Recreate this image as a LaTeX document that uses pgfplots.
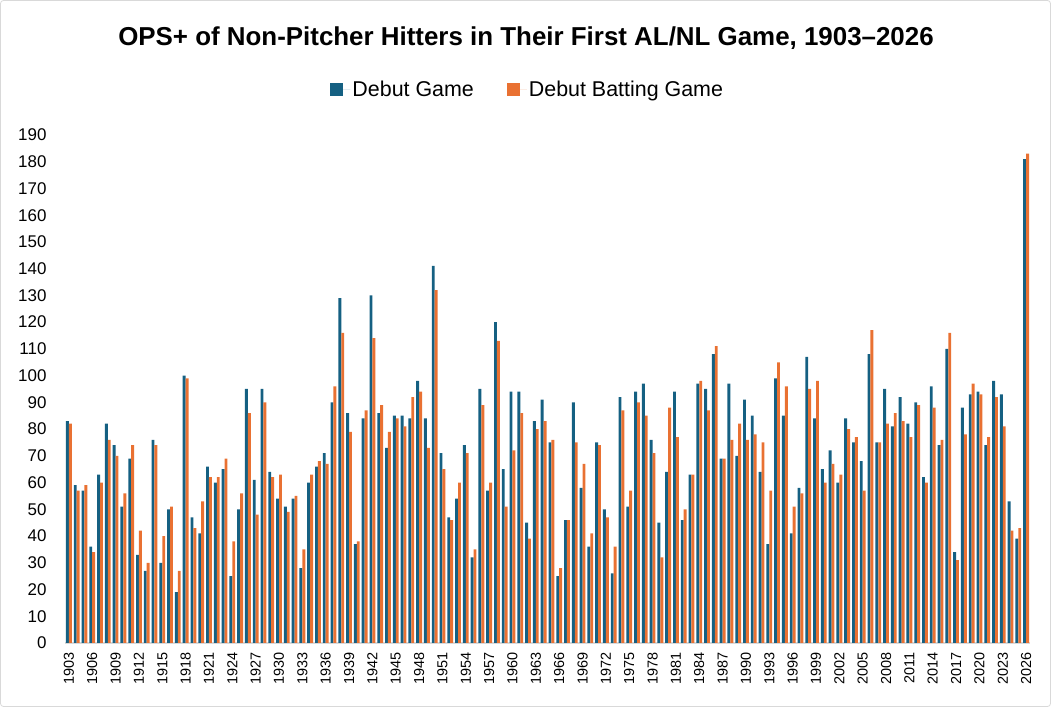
\documentclass[border=0pt]{standalone}
\usepackage{pgfplots}
\pgfplotsset{compat=1.18}
\usepackage{pgfplotstable}
\usepackage{fontspec}
\setmainfont{Liberation Sans}
\definecolor{cblue}{HTML}{156082}
\definecolor{corange}{HTML}{E97132}
\definecolor{axgray}{HTML}{D9D9D9}
\pgfplotstableread{
year a b
1903 83 82
1904 59 57
1905 57 59
1906 36 34
1907 63 60
1908 82 76
1909 74 70
1910 51 56
1911 69 74
1912 33 42
1913 27 30
1914 76 74
1915 30 40
1916 50 51
1917 19 27
1918 100 99
1919 47 43
1920 41 53
1921 66 62
1922 60 62
1923 65 69
1924 25 38
1925 50 56
1926 95 86
1927 61 48
1928 95 90
1929 64 62
1930 54 63
1931 51 49
1932 54 55
1933 28 35
1934 60 63
1935 66 68
1936 71 67
1937 90 96
1938 129 116
1939 86 79
1940 37 38
1941 84 87
1942 130 114
1943 86 89
1944 73 79
1945 85 84
1946 85 81
1947 84 92
1948 98 94
1949 84 73
1950 141 132
1951 71 65
1952 47 46
1953 54 60
1954 74 71
1955 32 35
1956 95 89
1957 57 60
1958 120 113
1959 65 51
1960 94 72
1961 94 86
1962 45 39
1963 83 80
1964 91 83
1965 75 76
1966 25 28
1967 46 46
1968 90 75
1969 58 67
1970 36 41
1971 75 74
1972 50 47
1973 26 36
1974 92 87
1975 51 57
1976 94 90
1977 97 85
1978 76 71
1979 45 32
1980 64 88
1981 94 77
1982 46 50
1983 63 63
1984 97 98
1985 95 87
1986 108 111
1987 69 69
1988 97 76
1989 70 82
1990 91 76
1991 85 78
1992 64 75
1993 37 57
1994 99 105
1995 85 96
1996 41 51
1997 58 56
1998 107 95
1999 84 98
2000 65 60
2001 72 67
2002 60 63
2003 84 80
2004 75 77
2005 68 57
2006 108 117
2007 75 75
2008 95 82
2009 81 86
2010 92 83
2011 82 77
2012 90 89
2013 62 60
2014 96 88
2015 74 76
2016 110 116
2017 34 31
2018 88 78
2019 93 97
2020 94 93
2021 74 77
2022 98 92
2023 93 81
2024 53 42
2025 39 43
2026 181 183
}\data
\begin{document}
\begin{tikzpicture}[x=1bp,y=1bp]
\path[use as bounding box] (0,0) rectangle (1051,707);
\draw[axgray, line width=0.8bp, rounded corners=3bp] (0.5,0.5) rectangle (1050.5,706.5);
\node[font=\fontsize{26}{30}\selectfont\bfseries, anchor=base] at (526,661) {OPS+ of Non-Pitcher Hitters in Their First AL/NL Game, 1903--2026};
\begin{axis}[
  at={(65bp,64bp)}, anchor=south west,
  scale only axis, width=965bp, height=508bp,
  ybar=0pt, bar width=2.9bp,
  xmin=1902.5, xmax=2026.5, ymin=0, ymax=190,
  ytick={0,10,...,190}, xtick={1903,1906,...,2026},
  axis lines*=left,
  axis line style={-},
  y axis line style={draw=none},
  x axis line style={axgray, line width=1.4bp},
  major tick length=0pt,
  /pgf/number format/assume math mode=true,
  /pgf/number format/1000 sep={},
  xticklabel style={rotate=90, anchor=east, font=\fontsize{14.5}{17}\selectfont, xshift=-6bp},
  yticklabel style={font=\fontsize{17}{20}\selectfont, xshift=-15bp},
  legend style={at={(0.4795,1.0886)}, anchor=center, draw=none, fill=none,
    legend columns=2, font=\fontsize{21.5}{25}\selectfont,
    /tikz/every even column/.append style={column sep=31bp}},
  legend image code/.code={\fill[#1] (0bp,-6.5bp) rectangle (13bp,6.5bp); \path (0bp,0bp) -- (20bp,0bp);},
]
\addplot[fill=cblue, draw=none] table[x=year,y=a]{\data};
\addplot[fill=corange, draw=none] table[x=year,y=b]{\data};
\legend{Debut Game, Debut Batting Game}
\end{axis}
\end{tikzpicture}
\end{document}
